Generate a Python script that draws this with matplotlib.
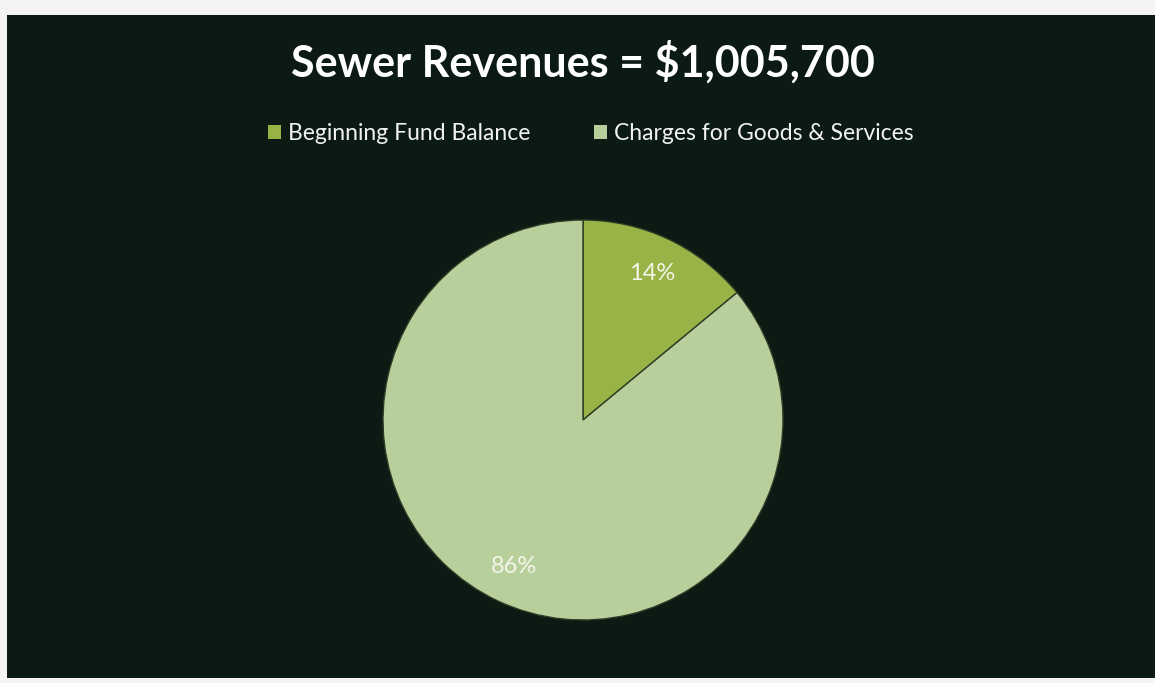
import matplotlib.pyplot as plt
from matplotlib.patches import Rectangle, Patch

# revenue split
labels = ['Beginning Fund Balance', 'Charges for Goods & Services']
shares = [14, 86]
colors = ['#98b447', '#b7cf9a']
title = 'Sewer Revenues = $1,005,700'

W, H = 1155, 683
fig = plt.figure(figsize=(W / 100, H / 100), dpi=100, facecolor='#f4f4f2')

# dark slide area
fig.patches.append(Rectangle((7 / W, 5 / H), 1 - 7 / W, (678 - 15) / H,
                             transform=fig.transFigure, facecolor='#0c1a14',
                             edgecolor='none', zorder=-10))

fig.text(583 / W, 1 - 62 / H, title, ha='center', va='center', color='white',
         fontsize=31, fontweight='bold', family='Lato')

handles = [Patch(facecolor=c, edgecolor='none') for c in colors]
leg = fig.legend(handles, labels, ncol=2, loc='center', bbox_to_anchor=(591 / W, 1 - 134 / H),
                 frameon=False, handlelength=0.55, handleheight=0.55,
                 handletextpad=0.3, columnspacing=2.8, prop={'family': 'Lato', 'size': 16.5})
for t in leg.get_texts():
    t.set_color('#f2f2f2')

ax = fig.add_axes([383 / W, 63 / H, 400 / W, 400 / H])
wedges, texts, autotexts = ax.pie(shares, colors=colors, startangle=90, counterclock=False,
                                  autopct='%d%%', pctdistance=0.81,
                                  wedgeprops={'edgecolor': '#2d3a25', 'linewidth': 1.0})
for t in autotexts:
    t.set_color('#f5f5ea')
    t.set_fontsize(17)
    t.set_family('Lato')
ax.set_xlim(-1, 1)
ax.set_ylim(-1, 1)
ax.set_aspect('equal')
ax.axis('off')

fig.savefig('out.png', dpi=100, facecolor=fig.get_facecolor())
